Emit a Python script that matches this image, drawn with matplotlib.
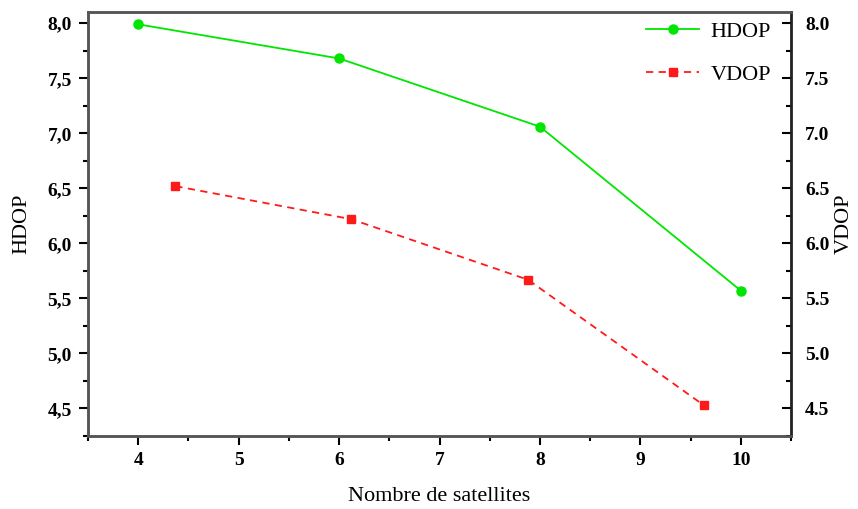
import matplotlib
matplotlib.use("Agg")
import matplotlib.pyplot as plt
from matplotlib.ticker import MultipleLocator, FuncFormatter

# data
sat_h = [4, 6, 8, 10]
hdop = [7.99, 7.68, 7.06, 5.57]
sat_v = [4.37, 6.12, 7.88, 9.63]
vdop = [6.52, 6.22, 5.67, 4.53]

plt.rcParams['font.family'] = ['Liberation Serif', 'DejaVu Serif']

fig, ax = plt.subplots(figsize=(8.58, 5.09), dpi=100)
plt.subplots_adjust(left=0.1026, right=0.922, top=0.976, bottom=0.1434)
ax2 = ax.twinx()

l1, = ax.plot(sat_h, hdop, color='#00e600', lw=1.3, marker='o', ms=6.5, label='HDOP')
l2, = ax2.plot(sat_v, vdop, color='#ff1a1a', lw=1.3, ls=(0, (4, 3)), marker='s', ms=6, label='VDOP')

for a in (ax, ax2):
    a.set_xlim(3.5, 10.5)
    a.set_ylim(4.25, 8.1)
    a.yaxis.set_major_locator(MultipleLocator(0.5))
    a.yaxis.set_minor_locator(MultipleLocator(0.25))
    for s in a.spines.values():
        s.set_linewidth(1.8)
        s.set_color('#555555')
ax2.spines['right'].set_color('#222222')

ax.tick_params(which='major', length=6.5, width=1.5, labelsize=14, pad=5)
ax.tick_params(which='minor', length=3.5, width=1.5)
ax2.tick_params(which='major', direction='in', length=6.5, width=1.5, labelsize=14, pad=10)
ax2.tick_params(which='minor', direction='in', length=3.5, width=1.5)

ax.xaxis.set_major_locator(MultipleLocator(1))
ax.xaxis.set_minor_locator(MultipleLocator(0.5))
ax.yaxis.set_major_formatter(FuncFormatter(lambda v, p: f"{v:.1f}".replace('.', ',')))
ax2.yaxis.set_major_formatter(FuncFormatter(lambda v, p: f"{v:.1f}"))

for lab in ax.get_xticklabels() + ax.get_yticklabels() + ax2.get_yticklabels():
    lab.set_fontweight('bold')

ax.set_xlabel('Nombre de satellites', fontsize=16, labelpad=13)
ax.set_ylabel('HDOP', fontsize=16, labelpad=12)
ax2.set_ylabel('VDOP', fontsize=16, rotation=90, labelpad=4)

ax.legend(handles=[l1, l2], loc='upper right', frameon=False, fontsize=16,
          handlelength=2.4, handletextpad=0.5, labelspacing=1.0,
          bbox_to_anchor=(1.0, 1.025))

fig.savefig('out.png', dpi=100)
